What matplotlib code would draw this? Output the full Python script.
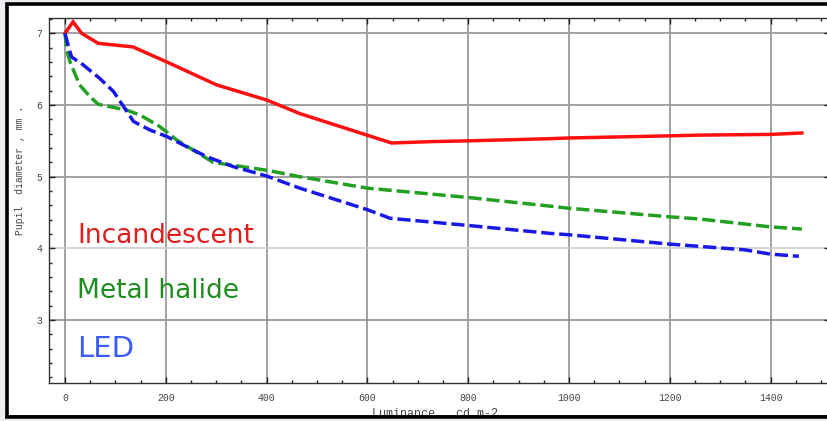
import matplotlib
matplotlib.use("Agg")
import matplotlib.pyplot as plt
from matplotlib.patches import Rectangle
from matplotlib.ticker import MultipleLocator

# ---- data ----
lum_inc = [0, 16, 33, 66, 135, 202, 301, 400, 466, 648, 730, 800, 962, 1000, 1200, 1260, 1400, 1462]
pd_inc = [7.0, 7.16, 7.0, 6.86, 6.81, 6.60, 6.28, 6.07, 5.88, 5.47, 5.49, 5.50, 5.53, 5.54, 5.57, 5.58, 5.59, 5.61]

lum_mh = [0, 3, 10, 29, 49, 66, 122, 149, 188, 222, 294, 400, 466, 600, 800, 962, 1000, 1200, 1260, 1400, 1462]
pd_mh = [7.0, 6.77, 6.60, 6.28, 6.12, 6.01, 5.93, 5.86, 5.70, 5.51, 5.20, 5.09, 5.00, 4.84, 4.71, 4.59, 4.56, 4.44, 4.41, 4.30, 4.27]

lum_led = [0, 7, 13, 36, 69, 96, 116, 136, 169, 202, 241, 281, 334, 400, 466, 600, 645, 800, 962, 1000, 1200, 1349, 1400, 1456]
pd_led = [7.0, 6.81, 6.67, 6.56, 6.37, 6.19, 5.98, 5.77, 5.65, 5.56, 5.42, 5.28, 5.14, 5.01, 4.84, 4.54, 4.42, 4.32, 4.21, 4.19, 4.06, 3.98, 3.92, 3.89]

series_names = ["Incandescent", "Metal halide", "LED"]
x_ticks = [0, 200, 400, 600, 800, 1000, 1200, 1400]
y_ticks = [3, 4, 5, 6, 7]
x_label = "Luminance , cd m-2"
y_label = "Pupil  diameter , mm ."

W, H = 827, 421
fig = plt.figure(figsize=(W / 100, H / 100), dpi=100, facecolor="#eeeef2")

# white framed panel (behind the axes)
panel = Rectangle((7 / W, 4 / H), 1.0, 413 / H, transform=fig.transFigure,
                  facecolor="white", edgecolor="black", linewidth=2.6, zorder=-10)
fig.patches.append(panel)

ax_l, ax_r, ax_t, ax_b = 49, 830, 18, 383
ax = fig.add_axes([ax_l / W, (H - ax_b) / H, (ax_r - ax_l) / W, (ax_b - ax_t) / H])
ax.set_facecolor("white")

# x: 0 at px 65, 0.504 px/unit ; y: 7 at px 33.3, 71.7 px/unit
x0 = (ax_l - 65) / 0.504
x1 = (ax_r - 65) / 0.504
y_top = 7 + (33.3 - ax_t) / 71.7
y_bot = 7 - (ax_b - 33.3) / 71.7
ax.set_xlim(x0, x1)
ax.set_ylim(y_bot, y_top)

ax.plot(lum_inc, pd_inc, color="#ff1010", lw=2.5, solid_joinstyle="miter", zorder=3)
ax.plot(lum_mh, pd_mh, color="#22a022", lw=2.5, dashes=(3.8, 1.4), zorder=3)
ax.plot(lum_led, pd_led, color="#1818e8", lw=2.5, dashes=(3.8, 1.4), zorder=3)

ax.set_xticks(x_ticks)
ax.set_yticks(y_ticks)
ax.xaxis.set_minor_locator(MultipleLocator(50))
ax.yaxis.set_minor_locator(MultipleLocator(0.2))
ax.tick_params(which="both", direction="in", top=True, right=True,
               colors="#222222", labelcolor="#444444")
ax.tick_params(which="major", length=4, width=1)
ax.tick_params(which="minor", length=2.5, width=1)
ax.tick_params(axis="x", pad=7)
ax.tick_params(axis="y", pad=5)
for lab in ax.get_xticklabels() + ax.get_yticklabels():
    lab.set_family("Liberation Mono")
    lab.set_fontsize(7)

ax.grid(True, which="major", color="#9a9a9a", lw=1.3)
for t in ax.yaxis.get_major_ticks():
    if abs(t.get_loc() - 4) < 1e-6:
        t.gridline.set_color("#d0d0d0")
for s in ax.spines.values():
    s.set_color("#333333")
    s.set_linewidth(1)

# series labels
ax.text(24, 4.07, series_names[0], color="#e01c1c", fontsize=19, family="DejaVu Sans", va="baseline")
ax.text(24, 3.31, series_names[1], color="#1e8c1e", fontsize=19, family="DejaVu Sans", va="baseline")
ax.text(24, 2.49, series_names[2], color="#3a5cff", fontsize=21, family="DejaVu Sans", va="baseline")

fig.text(20 / W, 1 - 170 / H, y_label, rotation=90, ha="center", va="center",
         fontsize=7, family="Liberation Mono", color="#444444")
fig.text(435 / W, 1 - 408 / H, x_label, ha="center", va="top",
         fontsize=8.5, family="Liberation Mono", color="#444444")

# bottom strip below frame (clips axis label as in reference)
fig.patches.append(Rectangle((0, 0), 1, 3.5 / H, transform=fig.transFigure,
                             facecolor="#eeeef2", edgecolor="none", zorder=10))
fig.lines.append(plt.Line2D([7 / W, 1], [4 / H, 4 / H], transform=fig.transFigure,
                            color="black", lw=2.6, zorder=11))

fig.savefig("out.png", dpi=100, facecolor=fig.get_facecolor())
